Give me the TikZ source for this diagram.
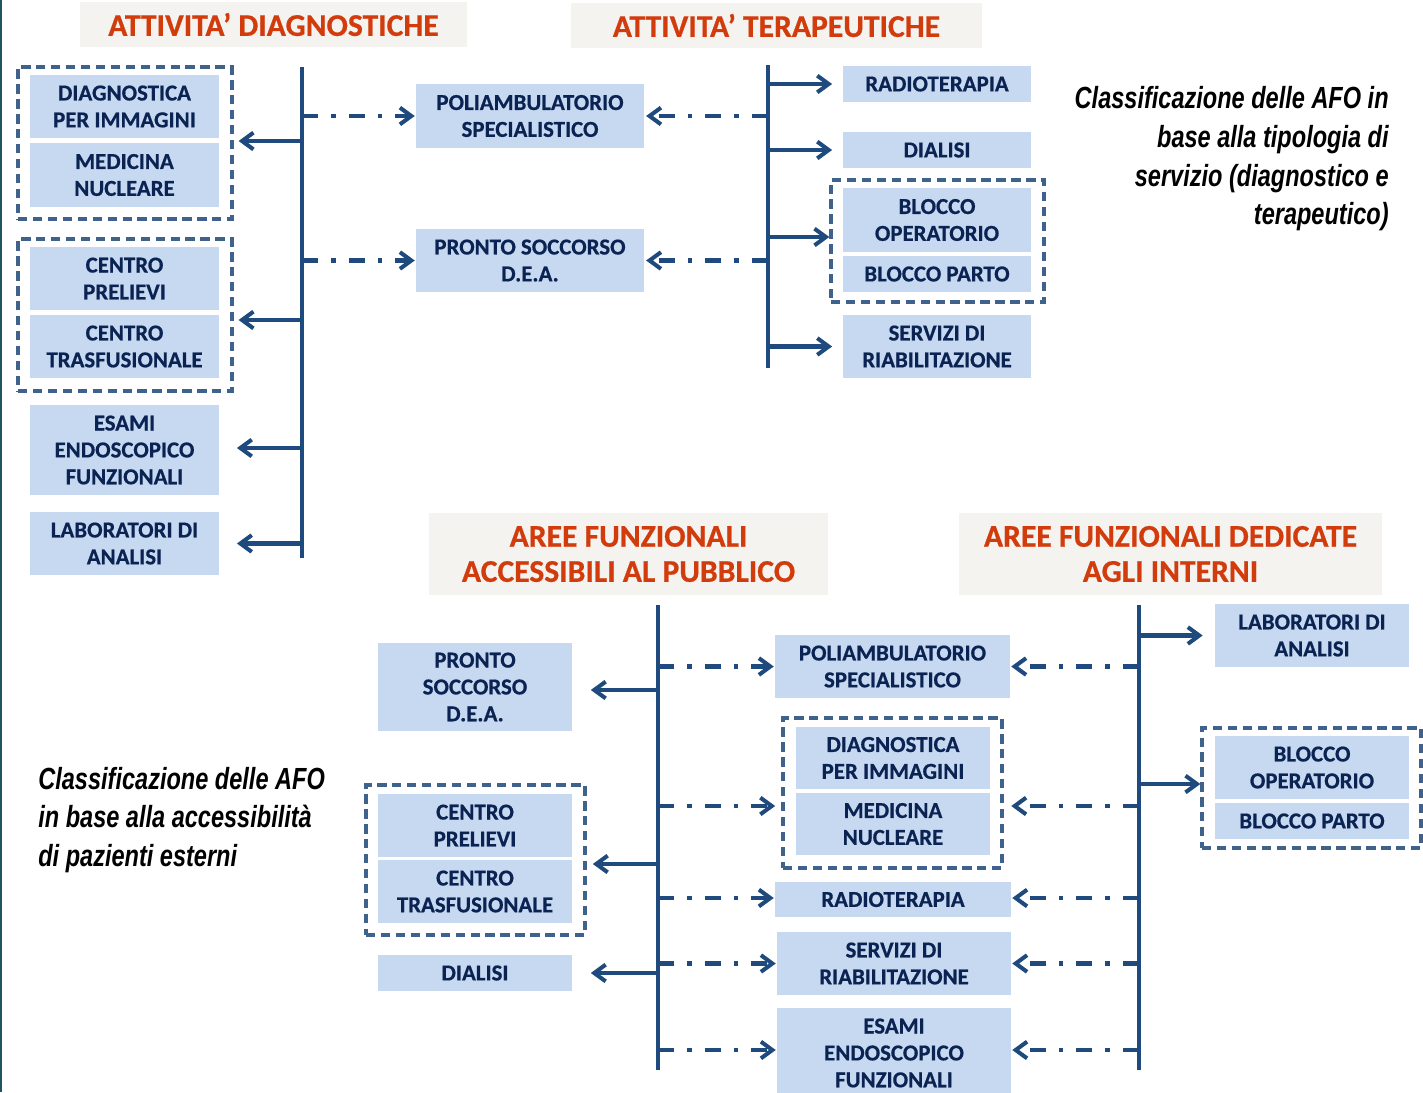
\documentclass[tikz,border=0pt]{standalone}
\usepackage{fontspec}
\setmainfont{Carlito}[BoldFeatures={FakeBold=0.6}]
\newfontfamily\capfont[FakeStretch=0.77]{Liberation Sans}
\usetikzlibrary{arrows.meta,fit}

\definecolor{boxfill}{HTML}{C6D9F1}
\definecolor{boxtext}{HTML}{0B2352}
\definecolor{spine}{HTML}{1F4A7E}
\definecolor{dashc}{HTML}{3F628C}
\definecolor{hdrtext}{HTML}{D23B0C}
\definecolor{hdrbg}{HTML}{F5F3EF}
\definecolor{edgeband}{HTML}{1D5565}

\begin{document}
\begin{tikzpicture}[x=0.02cm,y=-0.02cm,
  % rectangle spanning (x1,y1)-(x2,y2), text centred inside
  span/.style n args={4}{minimum width={(#3-#1)*0.02cm}, minimum height={(#4-#2)*0.02cm},
    at={(#1/2+#3/2, #2/2+#4/2)}, anchor=center},
  box/.style={fill=boxfill, inner sep=0pt, align=center, text=boxtext,
    font=\bfseries\fontsize{13}{15.3}\selectfont},
  grp/.style={draw=dashc, line width=1.9pt, dash pattern=on 5.3pt off 3.2pt, inner sep=0pt},
  hdr/.style={fill=hdrbg, inner sep=0pt, align=center, text=hdrtext,
    font=\bfseries\fontsize{18}{20}\selectfont},
  legendtext/.style={inner sep=0pt, font=\capfont\bfseries\itshape\fontsize{17.4}{22}\selectfont},
  bar/.style={draw=spine, line width=2.3pt},
  solidarrow/.style={draw=spine, line width=2.3pt, -{Straight Barb[length=6.5pt,width=9.5pt]}},
  dotarrow/.style={solidarrow, dash pattern=on 9pt off 7.4pt on 2.8pt off 7.4pt}]
\useasboundingbox (0,0) rectangle (1423,1092);
% narrow band on the left edge
\fill[edgeband] (0,0) rectangle (2.5,1092);

% ---------- service type classification ----------
\node[hdr, span={80}{2}{467}{47}] (hdiag) {ATTIVITA’ DIAGNOSTICHE};
\node[hdr, span={571}{3}{982}{48}] (hter) {ATTIVITA’ TERAPEUTICHE};

\node[box, span={30}{75}{219}{138}] (dpiA) {DIAGNOSTICA\\PER IMMAGINI};
\node[box, span={30}{143}{219}{207}] (mnA) {MEDICINA\\NUCLEARE};
\node[grp, fit={(18,67) (232,219)}] (gA) {};
\node[box, span={30}{247}{219}{310}] (cpA) {CENTRO\\PRELIEVI};
\node[box, span={30}{315}{219}{378}] (ctA) {CENTRO\\TRASFUSIONALE};
\node[grp, fit={(18,239) (232,391)}] (gB) {};
\node[box, span={30}{405}{219}{495}] (esA) {ESAMI\\ENDOSCOPICO\\FUNZIONALI};
\node[box, span={30}{512}{219}{575}] (labA) {LABORATORI DI\\ANALISI};

\node[box, span={416}{84}{644}{148}] (poliA) {POLIAMBULATORIO\\SPECIALISTICO};
\node[box, span={416}{229}{644}{292}] (psA) {PRONTO SOCCORSO\\D.E.A.};

\node[box, span={843}{66}{1031}{102}] (rtA) {RADIOTERAPIA};
\node[box, span={843}{132}{1031}{168}] (diA) {DIALISI};
\node[box, span={843}{188}{1031}{252}] (boA) {BLOCCO\\OPERATORIO};
\node[box, span={843}{256}{1031}{292}] (bpA) {BLOCCO PARTO};
\node[grp, fit={(831,180) (1044,302)}] (gC) {};
\node[box, span={843}{315}{1031}{378}] (srA) {SERVIZI DI\\RIABILITAZIONE};

\coordinate (sAt) at (302,67);  \coordinate (sAb) at (302,558);
\coordinate (sBt) at (768,65);  \coordinate (sBb) at (768,368);
\draw[bar] (sAt) -- (sAb);
\draw[bar] (sBt) -- (sBb);

\draw[solidarrow, shorten >=2.8pt] (sAt |- 0,141) -- (gA.east |- 0,141);
\draw[solidarrow, shorten >=2.8pt] (sAt |- 0,320) -- (gB.east |- 0,320);
\draw[solidarrow, shorten >=10pt] (sAt |- 0,448) -- (esA.east |- 0,448);
\draw[solidarrow, shorten >=10pt] (sAt |- labA.east) -- (labA.east);

\draw[dotarrow, shorten >=0.5pt] (sAt |- poliA.west) -- (poliA.west);
\draw[dotarrow, shorten >=0.5pt] (sAt |- psA.west) -- (psA.west);
\draw[dotarrow, shorten >=1pt] (sBt |- poliA.east) -- (poliA.east);
\draw[dotarrow, shorten >=1pt] (sBt |- psA.east) -- (psA.east);

\draw[solidarrow, shorten >=6pt] (sBt |- rtA.west) -- (rtA.west);
\draw[solidarrow, shorten >=6pt] (sBt |- diA.west) -- (diA.west);
\draw[solidarrow] (sBt |- 0,237) -- (gC.west |- 0,237);
\draw[solidarrow, shorten >=6pt] (sBt |- srA.west) -- (srA.west);

\node[legendtext, anchor=east, align=right] (capA) at (1389,159)
  {Classificazione delle AFO in\\base alla tipologia di\\servizio (diagnostico e\\terapeutico)};

% ---------- accessibility classification ----------
\node[hdr, span={429}{513}{828}{595}] (hpub) {AREE FUNZIONALI\\ACCESSIBILI AL PUBBLICO};
\node[hdr, span={959}{513}{1382}{595}] (hint) {AREE FUNZIONALI DEDICATE\\AGLI INTERNI};

\node[box, span={378}{643}{572}{731}] (psB) {PRONTO\\SOCCORSO\\D.E.A.};
\node[box, span={378}{794}{572}{857}] (cpB) {CENTRO\\PRELIEVI};
\node[box, span={378}{860}{572}{923}] (ctB) {CENTRO\\TRASFUSIONALE};
\node[grp, fit={(366,785) (585,935)}] (gD) {};
\node[box, span={378}{955}{572}{991}] (diB) {DIALISI};

\node[box, span={775}{635}{1010}{698}] (poliB) {POLIAMBULATORIO\\SPECIALISTICO};
\node[box, span={796}{727}{990}{789}] (dpiB) {DIAGNOSTICA\\PER IMMAGINI};
\node[box, span={796}{793}{990}{855}] (mnB) {MEDICINA\\NUCLEARE};
\node[grp, fit={(783,718) (1002,868)}] (gE) {};
\node[box, span={775}{882}{1011}{917}] (rtB) {RADIOTERAPIA};
\node[box, span={777}{932}{1011}{995}] (srB) {SERVIZI DI\\RIABILITAZIONE};
\node[box, span={777}{1008}{1011}{1098}] (esB) {ESAMI\\ENDOSCOPICO\\FUNZIONALI};

\node[box, span={1215}{604}{1409}{667}] (labB) {LABORATORI DI\\ANALISI};
\node[box, span={1215}{736}{1409}{799}] (boB) {BLOCCO\\OPERATORIO};
\node[box, span={1215}{803}{1409}{839}] (bpB) {BLOCCO PARTO};
\node[grp, fit={(1202,728) (1421,848)}] (gF) {};

\coordinate (sCt) at (658,605);  \coordinate (sCb) at (658,1070);
\coordinate (sDt) at (1139,605); \coordinate (sDb) at (1139,1070);
\draw[bar] (sCt) -- (sCb);
\draw[bar] (sDt) -- (sDb);

\draw[solidarrow, shorten >=10.5pt] (sCt |- 0,690) -- (psB.east |- 0,690);
\draw[solidarrow, shorten >=3.5pt] (sCt |- 0,864) -- (gD.east |- 0,864);
\draw[solidarrow, shorten >=10.5pt] (sCt |- diB.east) -- (diB.east);

\draw[dotarrow, shorten >=0.5pt] (sCt |- poliB.west) -- (poliB.west);
\draw[dotarrow, shorten >=3.5pt] (sCt |- 0,806) -- (gE.west |- 0,806);
\draw[dotarrow, shorten >=0.5pt] (sCt |- 0,898) -- (rtB.west |- 0,898);
\draw[dotarrow, shorten >=0.5pt] (sCt |- srB.west) -- (srB.west);
\draw[dotarrow, shorten >=0.5pt] (sCt |- 0,1050) -- (esB.west |- 0,1050);

\draw[dotarrow, shorten >=0.5pt] (sDt |- poliB.east) -- (poliB.east);
\draw[dotarrow, shorten >=0.5pt] (sDt |- 0,806) -- (poliB.east |- 0,806);
\draw[dotarrow, shorten >=0.5pt] (sDt |- 0,898) -- (rtB.east |- 0,898);
\draw[dotarrow, shorten >=0.5pt] (sDt |- srB.east) -- (srB.east);
\draw[dotarrow, shorten >=0.5pt] (sDt |- 0,1050) -- (esB.east |- 0,1050);

\draw[solidarrow, shorten >=6.8pt] (sDt |- labB.west) -- (labB.west);
\draw[solidarrow] (sDt |- 0,784) -- (gF.west |- 0,784);

\node[legendtext, anchor=west, align=left] (capB) at (38,820)
  {Classificazione delle AFO\\in base alla accessibilità\\di pazienti esterni};
\end{tikzpicture}
\end{document}
